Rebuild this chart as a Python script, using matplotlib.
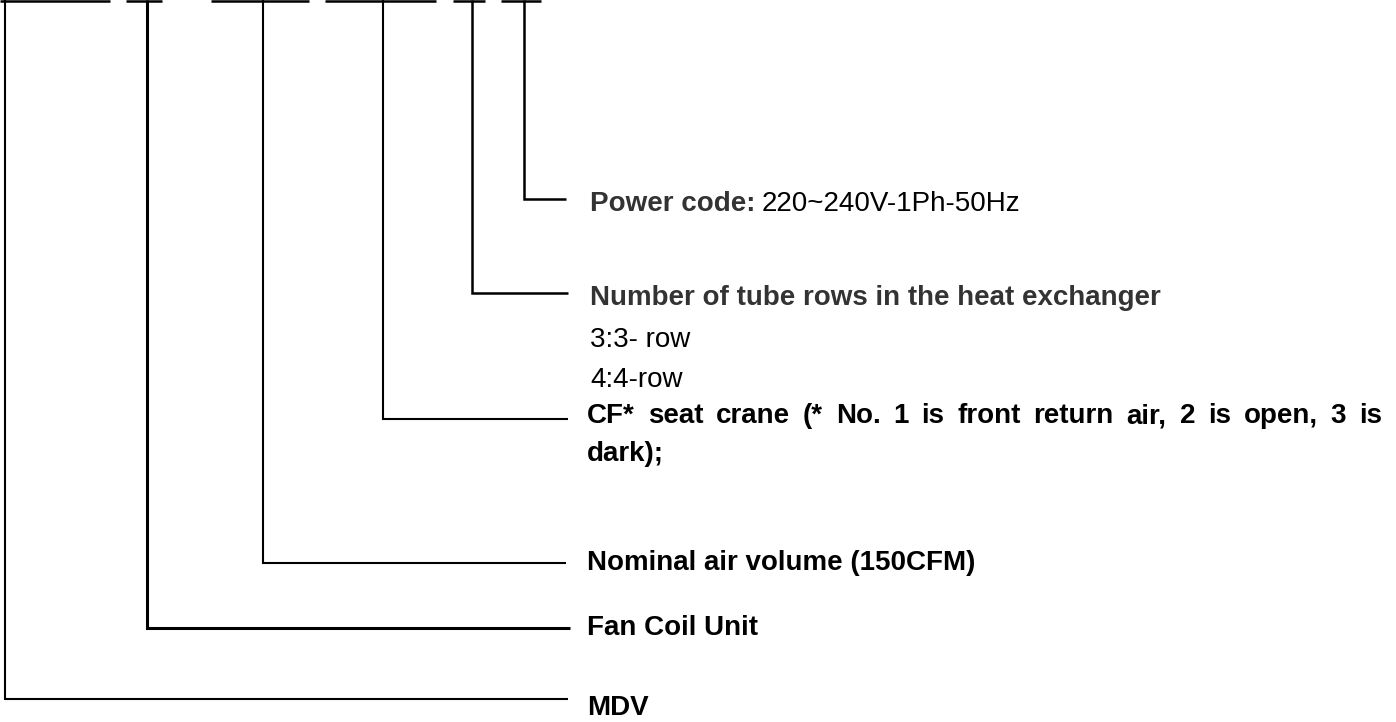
import matplotlib.pyplot as plt

# model code breakdown: top bracket segments and the lead lines under them
top_segments = [(0, 110), (126, 162), (211, 309), (325, 436), (453, 485), (501, 541)]
stem_x = [5, 147, 263, 383, 472, 524]
stem_y = [699, 628, 563, 419, 293, 199]
line_end = [568, 570, 566, 568, 568, 566]
line_w = [1.5, 2.2, 1.5, 1.5, 1.8, 1.8]

fig = plt.figure(figsize=(13.96, 7.22), dpi=100)
ax = fig.add_axes([0, 0, 1, 1])
ax.set_xlim(0, 1396)
ax.set_ylim(722, 0)
ax.axis('off')

for x0, x1 in top_segments:
    ax.plot([x0, x1], [1, 1], color='black', lw=1.8, solid_capstyle='butt')

for x, y, xe, w in zip(stem_x, stem_y, line_end, line_w):
    ax.plot([x, x, xe], [0, y, y], color='black', lw=w,
            solid_capstyle='butt', solid_joinstyle='miter')

sans = ['Liberation Sans', 'DejaVu Sans']
fs = 20
tx = 590
nx = 587

# power code
t = ax.text(tx, 211, 'Power code:', fontsize=fs, fontweight='bold', color='#333333',
            family=sans, va='baseline', ha='left')
fig.canvas.draw()
bb = t.get_window_extent().transformed(ax.transData.inverted())
ax.text(bb.x1 + 6, 211, '220~240V-1Ph-50Hz', fontsize=fs, color='black',
        family=sans, va='baseline', ha='left')

# tube rows
ax.text(tx, 305, 'Number of tube rows in the heat exchanger', fontsize=fs,
        fontweight='bold', color='#333333', family=sans, va='baseline')
ax.text(tx, 347, '3:3- row', fontsize=fs, color='black', family=sans, va='baseline')
ax.text(tx, 387, '4:4-row', fontsize=fs, color='black', family=sans, va='baseline')

# justified first line of the CF* text
cf_words = 'CF* seat crane (* No. 1 is front return air, 2 is open, 3 is'.split()
right_edge = 1382
cf_fs = fs
while True:
    arts = [ax.text(0, 423, w, fontsize=cf_fs, fontweight='bold', family=sans,
                    va='baseline', ha='left') for w in cf_words]
    fig.canvas.draw()
    widths = []
    for a in arts:
        b = a.get_window_extent().transformed(ax.transData.inverted())
        widths.append(b.x1 - b.x0)
    gap = (right_edge - nx - sum(widths)) / (len(cf_words) - 1)
    if gap >= 4 or cf_fs < 12:
        break
    for a in arts:
        a.remove()
    cf_fs -= 0.5
xp = nx
for a, w in zip(arts, widths):
    a.set_x(xp)
    xp += w + gap
ax.text(nx, 461, 'dark);', fontsize=cf_fs, fontweight='bold', family=sans, va='baseline')

ax.text(nx, 570, 'Nominal air volume (150CFM)', fontsize=fs, fontweight='bold',
        family=sans, va='baseline')
ax.text(nx, 635, 'Fan Coil Unit', fontsize=fs, fontweight='bold', family=sans, va='baseline')
ax.text(nx, 715, 'MDV', fontsize=fs, fontweight='bold', family=sans, va='baseline')

fig.savefig('out.png', dpi=100)
